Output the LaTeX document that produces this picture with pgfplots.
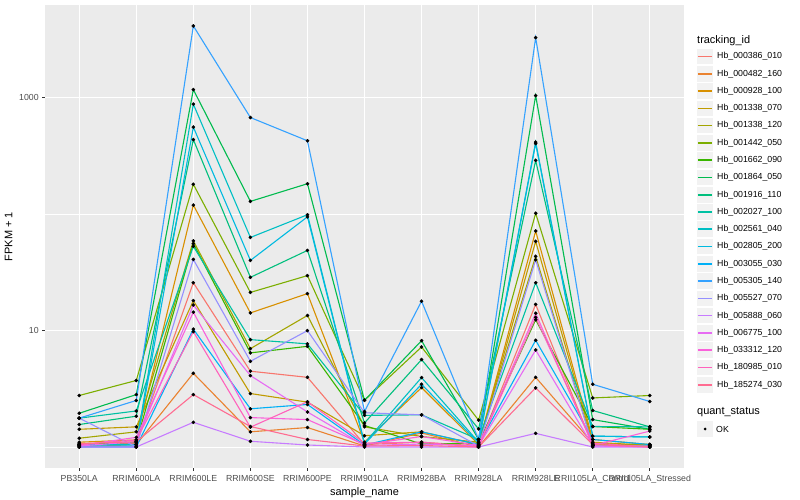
\documentclass[border=0pt]{standalone}
\usepackage{fontspec}
\setmainfont{Liberation Sans}
\usepackage{pgfplots}
\usepackage{pgfplotstable}
\pgfplotsset{compat=1.18}

\definecolor{ggbg}{HTML}{EBEBEB}
\definecolor{keybg}{HTML}{F2F2F2}
\definecolor{ticklab}{HTML}{4D4D4D}
\definecolor{tickcol}{HTML}{333333}
\definecolor{c1}{HTML}{F8766D}
\definecolor{c2}{HTML}{EA8331}
\definecolor{c3}{HTML}{D89000}
\definecolor{c4}{HTML}{C09B00}
\definecolor{c5}{HTML}{A3A500}
\definecolor{c6}{HTML}{7CAE00}
\definecolor{c7}{HTML}{39B600}
\definecolor{c8}{HTML}{00BB4E}
\definecolor{c9}{HTML}{00BF7D}
\definecolor{c10}{HTML}{00C1A3}
\definecolor{c11}{HTML}{00BFC4}
\definecolor{c12}{HTML}{00BAE0}
\definecolor{c13}{HTML}{00B0F6}
\definecolor{c14}{HTML}{35A2FF}
\definecolor{c15}{HTML}{9590FF}
\definecolor{c16}{HTML}{C77CFF}
\definecolor{c17}{HTML}{E76BF3}
\definecolor{c18}{HTML}{FA62DB}
\definecolor{c19}{HTML}{FF62BC}
\definecolor{c20}{HTML}{FF6C91}

% FPKM + 1, one row per sample, one column per tracking id
\pgfplotstableread{
x s1 s2 s3 s4 s5 s6 s7 s8 s9 s10 s11 s12 s13 s14 s15 s16 s17 s18 s19 s20
0 1.03 1.00 1.10 1.42 1.19 2.77 1.05 1.95 1.56 1.77 1.05 1.02 1.00 1.77 1.77 1.00 1.02 1.03 1.05 1.07
1 1.08 1.05 1.15 1.49 1.35 3.73 1.10 2.82 1.84 2.04 1.05 1.02 1.00 2.51 1.00 1.00 1.11 1.21 1.15 1.11
2 25.8 4.30 120 18.1 59 181 56 1178 438 53 883 561 10.3 4150 40.9 1.63 16.6 14.4 9.8 2.82
3 4.48 1.35 14.2 2.88 7.0 21.3 6.44 129 28.7 8.37 63.2 40.1 2.13 678 5.45 1.12 4.11 1.79 1.48 1.50
4 3.97 1.47 20.8 2.43 13.5 29.7 7.33 183 48.9 7.7 99 95 2.32 428 10.0 1.04 2.0 1.72 2.45 1.16
5 1.05 1.02 1.10 1.25 1.49 2.52 1.53 2.52 1.61 1.87 1.08 1.06 1.04 2.02 1.97 1.00 1.03 1.05 1.08 1.02
6 1.10 1.32 3.24 1.35 1.23 7.24 1.06 8.2 5.64 1.89 3.95 3.46 1.35 17.9 1.89 1.00 1.06 1.23 1.10 1.03
7 1.02 1.00 1.05 1.05 1.10 1.70 1.08 1.16 1.43 1.16 1.10 1.08 1.05 1.16 1.02 1.00 1.02 1.03 1.00 1.00
8 16.8 3.97 71.8 58.5 43.5 102 12.4 1047 290 25.8 417 405 8.26 3296 40.6 1.31 6.82 14.1 13.0 3.22
9 1.03 1.08 1.16 1.10 1.05 2.64 1.50 1.72 2.06 1.50 1.24 1.24 1.16 3.46 1.03 1.00 1.02 1.03 1.08 1.05
10 1.02 1.03 1.05 1.03 1.05 2.77 1.42 1.42 1.49 1.49 1.22 1.22 1.05 2.46 1.02 1.00 1.00 1.37 1.00 1.00
}\fpkm

\begin{document}
\begin{tikzpicture}
\fill[white] (-45bp,-32bp) rectangle (755bp,468bp);
\path[use as bounding box] (-45bp,-32bp) rectangle (755bp,468bp);
\begin{axis}[
  scale only axis,
  width=639bp, height=463bp,
  xmin=-0.6, xmax=10.6,
  ymode=log, ymin=0.66, ymax=6285,
  axis background/.style={fill=ggbg},
  axis line style={draw=none},
  xmajorgrids, ymajorgrids, yminorgrids,
  major grid style={white, line width=1.1bp},
  minor grid style={white, line width=0.55bp},
  tick pos=left, tick align=outside,
  major tick length=2.75bp, minor tick length=0pt,
  tick style={color=tickcol, line width=1.1bp},
  xtick={0,...,10},
  xticklabels={PB350LA,RRIM600LA,RRIM600LE,RRIM600SE,RRIM600PE,RRIM901LA,RRIM928BA,RRIM928LA,RRIM928LE,RRII105LA\_Control,RRII105LA\_Stressed},
  ytick={10,1000}, yticklabels={10,1000},
  minor ytick={1,100},
  /pgf/number format/assume math mode=true,
  ticklabel style={font=\fontsize{8.8}{10}\selectfont, text=ticklab},
  xticklabel style={yshift=-1bp},
  xlabel={sample\_name}, ylabel={FPKM + 1},
  label style={font=\fontsize{11}{13}\selectfont},
  xlabel style={yshift=3bp},
  ylabel style={yshift=0bp},
]
% lines first, then all points on top
\pgfplotsinvokeforeach{1,...,20}{
  \addplot[c#1, line width=1.1bp, no markers] table[x=x, y=s#1]{\fpkm};
}
\pgfplotsinvokeforeach{1,...,20}{
  \addplot[only marks, mark=*, mark size=1.6bp, draw=black, fill=black] table[x=x, y=s#1]{\fpkm};
}
\end{axis}
% legend
\node[anchor=west, inner sep=0pt, font=\fontsize{11}{13}\selectfont] at (652bp,427.5bp) {tracking\_id};
\foreach \t [count=\i] in {Hb\_000386\_010,Hb\_000482\_160,Hb\_000928\_100,Hb\_001338\_070,Hb\_001338\_120,Hb\_001442\_050,Hb\_001662\_090,Hb\_001864\_050,Hb\_001916\_110,Hb\_002027\_100,Hb\_002561\_040,Hb\_002805\_200,Hb\_003055\_030,Hb\_005305\_140,Hb\_005527\_070,Hb\_005888\_060,Hb\_006775\_100,Hb\_033312\_120,Hb\_180985\_010,Hb\_185274\_030}{
  \pgfmathsetmacro\yy{411.5-(\i-1)*17.28}
  \fill[keybg] (652.3bp,\yy bp-7.8bp) rectangle (667.9bp,\yy bp+7.8bp);
  \draw[c\i, line width=1.6bp] (652.8bp,\yy bp) -- (667.4bp,\yy bp);
  \node[anchor=west, inner sep=0pt, font=\fontsize{8.8}{10}\selectfont] at (672bp,\yy bp) {\t};
}
\node[anchor=west, inner sep=0pt, font=\fontsize{11}{13}\selectfont] at (652bp,55.7bp) {quant\_status};
\fill[keybg] (652.3bp,31.2bp) rectangle (667.9bp,46.8bp);
\fill[black] (660.1bp,39bp) circle (1.6bp);
\node[anchor=west, inner sep=0pt, font=\fontsize{8.8}{10}\selectfont] at (671bp,39bp) {OK};
\end{tikzpicture}
\end{document}
